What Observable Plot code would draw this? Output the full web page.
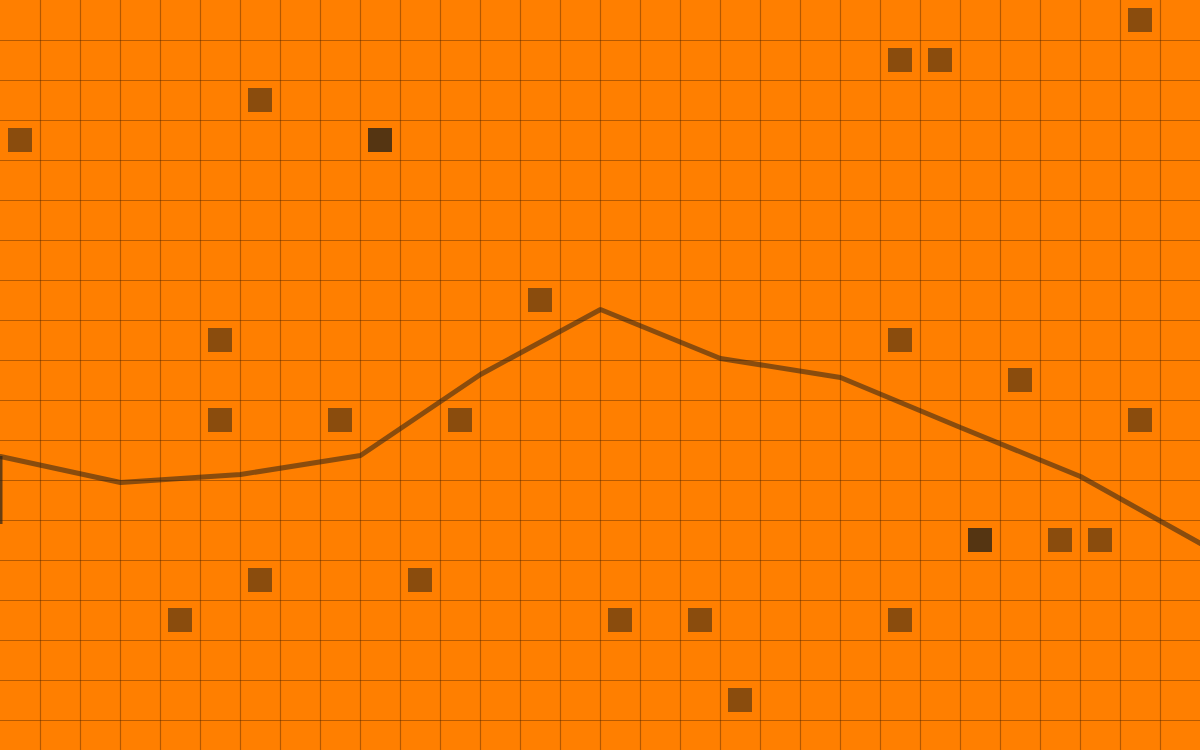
<!DOCTYPE html>
<html>
<head>
<meta charset="utf-8">
<script src="https://cdn.jsdelivr.net/npm/d3@7"></script>
<script src="https://cdn.jsdelivr.net/npm/@observablehq/plot@0.6"></script>
<style>
  html, body { margin: 0; padding: 0; background: #ff7f00; overflow: hidden; }
  #chart svg { display: block; }
</style>
</head>
<body>
<div id="chart"></div>
<script>
// Grid tick positions (cell boundaries, 1 unit = one cell)
const gridXTicks = [1,2,3,4,5,6,7,8,9,10,11,12,13,14,15,16,17,18,19,20,21,22,23,24,25,26,27,28,29];
const gridYTicks = [1,2,3,4,5,6,7,8,9,10,11,12,13,14,15,16,17,18];

// Filled cells (column, row); repeated cells appear darker
const cellCols = [28, 22, 23, 6, 0, 9, 9, 13, 5, 22, 25, 5, 8, 11, 28, 24, 24, 26, 27, 6, 10, 4, 15, 17, 22, 18];
const cellRows = [0, 1, 1, 2, 3, 3, 3, 7, 8, 8, 9, 10, 10, 10, 10, 13, 13, 13, 13, 14, 14, 15, 15, 15, 15, 17];

// Line series
const lineX = [0, 3, 6, 9, 12, 15, 18, 21, 24, 27, 30];
const lineY = [11.4, 12.05, 11.85, 11.375, 9.35, 7.725, 8.95, 9.425, 10.675, 11.9, 13.575];

// Small vertical segment at the left edge
const segX = [0];
const segY1 = [11.4];
const segY2 = [13.1];

const cells = cellCols.map((c, i) => ({col: c, row: cellRows[i]}));
const line = lineX.map((x, i) => ({x, y: lineY[i]}));
const seg = segX.map((x, i) => ({x, y1: segY1[i], y2: segY2[i]}));

const ink = "#2a2218";

const chart = Plot.plot({
  width: 1200,
  height: 750,
  margin: 0,
  style: {background: "#ff7f00", overflow: "hidden"},
  x: {domain: [0, 30], range: [0, 1200], axis: null},
  y: {domain: [0, 18.75], range: [0, 750], axis: null},
  marks: [
    Plot.ruleX(gridXTicks, {stroke: "#3a1a00", strokeOpacity: 0.38, strokeWidth: 1.2}),
    Plot.ruleY(gridYTicks, {stroke: "#3a1a00", strokeOpacity: 0.38, strokeWidth: 1.2}),
    Plot.rect(cells, {
      x1: d => d.col, x2: d => d.col + 1,
      y1: d => d.row, y2: d => d.row + 1,
      inset: 8, fill: ink, fillOpacity: 0.55
    }),
    Plot.line(line, {x: "x", y: "y", stroke: ink, strokeOpacity: 0.55, strokeWidth: 5, strokeLinejoin: "miter", curve: "linear"}),
    Plot.ruleX(seg, {x: "x", y1: "y1", y2: "y2", stroke: ink, strokeOpacity: 0.7, strokeWidth: 4})
  ]
});
document.getElementById("chart").append(chart);
</script>
</body>
</html>
